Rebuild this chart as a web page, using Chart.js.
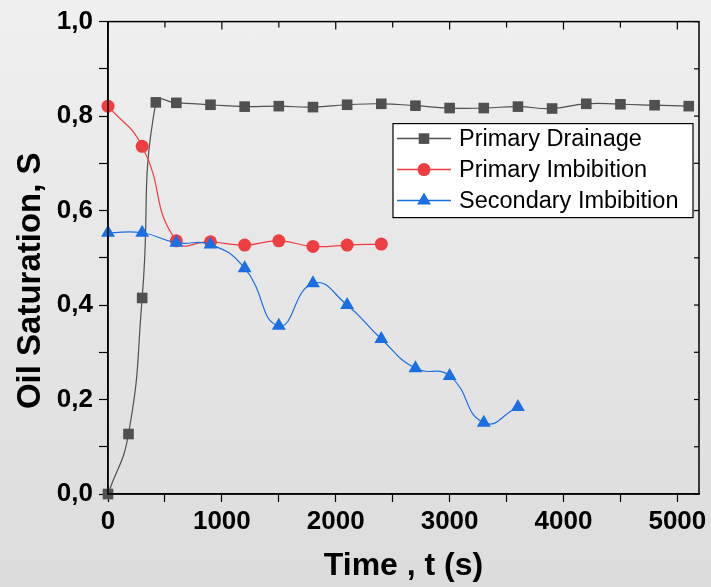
<!DOCTYPE html>
<html>
<head>
<meta charset="utf-8">
<script src="https://cdn.jsdelivr.net/npm/chart.js@4/dist/chart.umd.min.js"></script>
<style>
    html, body { margin: 0; padding: 0; }
    body {
        width: 711px; height: 587px; overflow: hidden;
        background: linear-gradient(to bottom, #f0f0f0 0%, #dcdcdc 100%);
    }
    #wrap { position: relative; width: 711px; height: 587px; }
</style>
</head>
<body>
<div id="wrap"><canvas id="grafico" width="711" height="587"></canvas></div>
<script>
// ===== dados =====
const seriesNames = ['Primary Drainage', 'Primary Imbibition', 'Secondary Imbibition'];

const timeDrainage = [0, 180, 300, 420, 600, 900, 1200, 1500, 1800, 2100, 2400, 2700, 3000, 3300, 3600, 3900, 4200, 4500, 4800, 5100];
const satDrainage  = [0.0, 0.127, 0.415, 0.829, 0.828, 0.824, 0.820, 0.821, 0.819, 0.824, 0.826, 0.822, 0.817, 0.817, 0.820, 0.816, 0.826, 0.825, 0.823, 0.821];

const timeImbibition = [0, 300, 600, 900, 1200, 1500, 1800, 2100, 2400];
const satImbibition  = [0.821, 0.736, 0.536, 0.534, 0.527, 0.536, 0.524, 0.527, 0.529];

const timeSecondary = [0, 300, 600, 900, 1200, 1500, 1800, 2100, 2400, 2700, 3000, 3300, 3600];
const satSecondary  = [0.553, 0.553, 0.532, 0.528, 0.478, 0.356, 0.446, 0.400, 0.328, 0.266, 0.250, 0.151, 0.184];

const xTickValues = [0, 500, 1000, 1500, 2000, 2500, 3000, 3500, 4000, 4500, 5000];
const xTicksMajor = [0, 1000, 2000, 3000, 4000, 5000];
const yTicksMajor = ['0,0', '0,2', '0,4', '0,6', '0,8', '1,0'];

const cinza = '#505050';
const vermelho = '#ef3e42';
const azul = '#1b6fe0';
const FONTE = "'Liberation Sans', Arial, sans-serif";

function pares(xs, ys) {
    return xs.map((x, i) => ({ x: x, y: ys[i] }));
}

// ticks internos no topo/direita + moldura
const molduraPlugin = {
    id: 'moldura',
    afterDraw(chart) {
        const { ctx, chartArea: a, scales } = chart;
        ctx.save();
        ctx.strokeStyle = '#000';
        ctx.lineWidth = 1.5;
        ctx.strokeRect(a.left, a.top, a.right - a.left, a.bottom - a.top);
        ctx.lineWidth = 1.2;
        scales.x.ticks.forEach(t => {
            const px = scales.x.getPixelForValue(t.value);
            const len = t.value % 1000 === 0 ? 8 : 6;
            ctx.beginPath();
            ctx.moveTo(px, a.top);
            ctx.lineTo(px, a.top + len);
            ctx.stroke();
        });
        scales.y.ticks.forEach(t => {
            const py = scales.y.getPixelForValue(t.value);
            ctx.beginPath();
            ctx.moveTo(a.right, py);
            ctx.lineTo(a.right - 5, py);
            ctx.stroke();
        });
        ctx.restore();
    }
};

// legenda desenhada dentro da área do gráfico
const legendaPlugin = {
    id: 'legendaInterna',
    afterDatasetsDraw(chart) {
        const { ctx, chartArea: a } = chart;
        const bx = a.right - 306, by = a.top + 102, bw = 300, bh = 94;
        ctx.save();
        ctx.fillStyle = '#ffffff';
        ctx.fillRect(bx, by, bw, bh);
        ctx.strokeStyle = '#000';
        ctx.lineWidth = 1.2;
        ctx.strokeRect(bx, by, bw, bh);
        ctx.font = '23.5px ' + FONTE;
        ctx.textBaseline = 'middle';
        chart.data.datasets.forEach((ds, i) => {
            const cy = by + 15 + i * 31;
            ctx.strokeStyle = ds.borderColor;
            ctx.lineWidth = 1.5;
            ctx.beginPath();
            ctx.moveTo(bx + 4, cy);
            ctx.lineTo(bx + 58, cy);
            ctx.stroke();
            const opts = {
                pointStyle: ds.pointStyle, radius: ds.pointRadius, rotation: 0,
                borderWidth: 0
            };
            ctx.fillStyle = ds.pointBackgroundColor;
            ctx.strokeStyle = ds.pointBackgroundColor;
            if (Chart.helpers && Chart.helpers.drawPoint) {
                Chart.helpers.drawPoint(ctx, opts, bx + 31, cy);
            }
            ctx.fillStyle = '#000';
            ctx.fillText(ds.label, bx + 66, cy + 1);
        });
        ctx.restore();
    }
};

const ctx = document.getElementById('grafico').getContext('2d');
new Chart(ctx, {
    type: 'line',
    data: {
        datasets: [
            {
                label: seriesNames[0],
                data: pares(timeDrainage, satDrainage),
                borderColor: cinza,
                borderWidth: 1.2,
                pointStyle: 'rect',
                pointRadius: 7.5,
                pointBackgroundColor: cinza,
                pointBorderColor: cinza,
                pointBorderWidth: 0,
                tension: 0.5,
                order: 2
            },
            {
                label: seriesNames[1],
                data: pares(timeImbibition, satImbibition),
                borderColor: vermelho,
                borderWidth: 1.2,
                pointStyle: 'circle',
                pointRadius: 6.5,
                pointBackgroundColor: vermelho,
                pointBorderColor: vermelho,
                pointBorderWidth: 0,
                tension: 0.5,
                order: 1
            },
            {
                label: seriesNames[2],
                data: pares(timeSecondary, satSecondary),
                borderColor: azul,
                borderWidth: 1.2,
                pointStyle: 'triangle',
                pointRadius: 8,
                pointBackgroundColor: azul,
                pointBorderColor: azul,
                pointBorderWidth: 0,
                tension: 0.5,
                order: 0
            }
        ]
    },
    options: {
        responsive: false,
        animation: false,
        clip: false,
        layout: { padding: { top: 20, right: 12, left: 0, bottom: 0 } },
        plugins: {
            legend: { display: false },
            tooltip: { enabled: false }
        },
        scales: {
            x: {
                type: 'linear',
                min: 0,
                max: 5190,
                afterBuildTicks: s => { s.ticks = xTickValues.map(v => ({ value: v })); },
                afterFit: s => { s.height = 93; },
                border: { display: true, color: '#000', width: 1.5 },
                grid: { drawOnChartArea: false, tickLength: 8, color: '#000', tickColor: '#000', tickWidth: 1.2 },
                ticks: {
                    autoSkip: false,
                    maxRotation: 0,
                    padding: 4,
                    color: '#000',
                    font: { family: FONTE, size: 26, weight: 'bold' },
                    callback: v => (xTicksMajor.includes(v) ? String(v) : '')
                },
                title: {
                    display: true,
                    text: 'Time , t (s)',
                    color: '#000',
                    font: { family: FONTE, size: 32, weight: 'bold', lineHeight: 1.2 },
                    padding: { top: 0, bottom: 2 }
                }
            },
            y: {
                min: 0,
                max: 1,
                afterFit: s => { s.width = 108; },
                border: { display: true, color: '#000', width: 1.5 },
                grid: { drawOnChartArea: false, tickLength: 9, color: '#000', tickColor: '#000', tickWidth: 1.2 },
                ticks: {
                    stepSize: 0.1,
                    autoSkip: false,
                    padding: 6,
                    color: '#000',
                    font: { family: FONTE, size: 26, weight: 'bold' },
                    callback: v => {
                        const k = Math.round(v * 10);
                        return k % 2 === 0 ? yTicksMajor[k / 2] : '';
                    }
                },
                title: {
                    display: true,
                    text: 'Oil Saturation, S     ',
                    color: '#000',
                    font: { family: FONTE, size: 33, weight: 'bold', lineHeight: 1.2 },
                    padding: { top: 11, bottom: 0 }
                }
            }
        }
    },
    plugins: [molduraPlugin, legendaPlugin]
});
</script>
</body>
</html>
